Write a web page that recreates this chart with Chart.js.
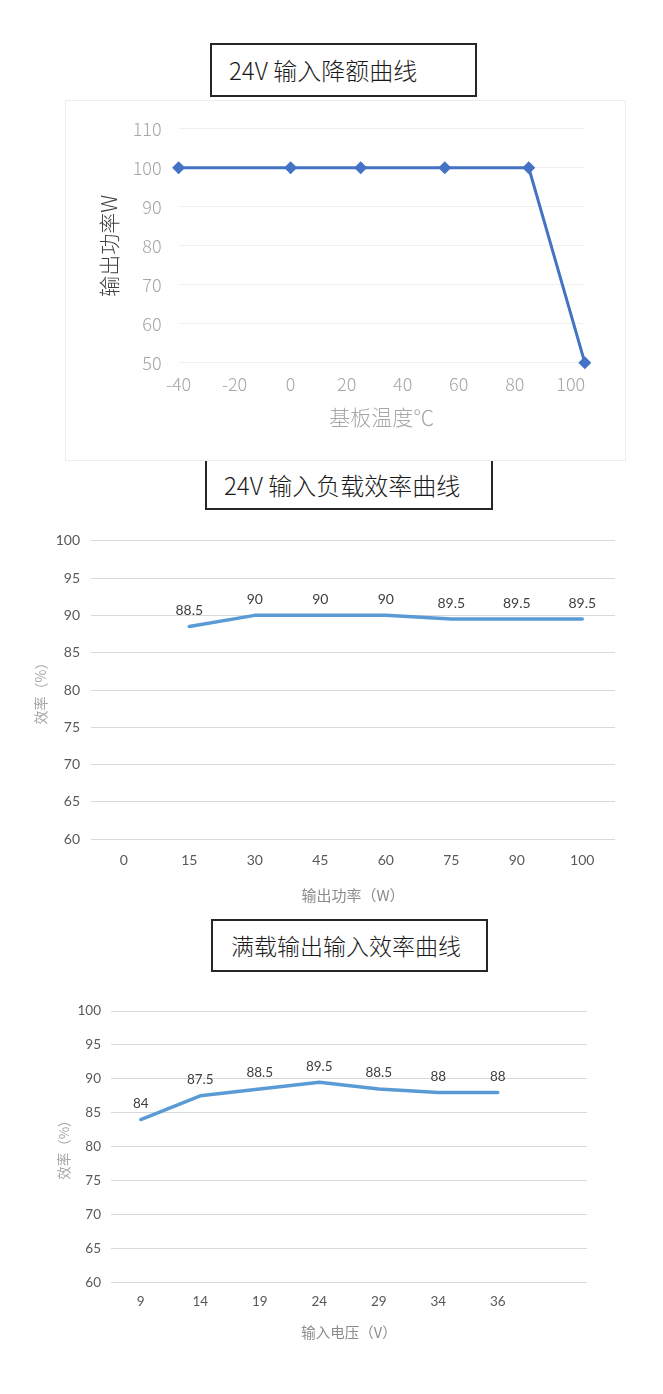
<!DOCTYPE html>
<html lang="zh-CN">
<head>
<meta charset="utf-8">
<title>24V 输入降额与效率曲线</title>
<script src="https://cdn.jsdelivr.net/npm/chart.js@4.4.1/dist/chart.umd.min.js"></script>
<style>
  html, body { margin: 0; padding: 0; background: #fff; }
  body {
    position: relative;
    width: 663px;
    height: 1394px;
    overflow: hidden;
    font-family: 'Noto Sans CJK SC', sans-serif;
  }
  .title-box {
    position: absolute;
    box-sizing: border-box;
    border: 2px solid #262626;
    background: #fff;
    color: #1a1a1a;
    font-size: 24px;
    font-weight: 300;
    line-height: 1;
    display: flex;
    align-items: center;
    white-space: nowrap;
  }
  .frame {
    position: absolute;
    box-sizing: border-box;
    border: 1px solid #ececec;
    background: #fff;
  }
  canvas { position: absolute; }
</style>
</head>
<body>

<div class="title-box" style="left:210px; top:43px; width:267px; height:54px; padding-left:17px;">24V 输入降额曲线</div>
<div class="title-box" style="left:205px; top:461px; width:288px; height:49px; padding-left:17px; border-top:none;">24V 输入负载效率曲线</div>
<div class="frame" style="left:65px; top:100px; width:561px; height:361px;"></div>
<canvas id="derating-chart" width="558" height="358" style="left:66px; top:101px;"></canvas>

<canvas id="load-chart" width="663" height="390" style="left:0; top:520px;"></canvas>

<div class="title-box" style="left:211px; top:919px; width:277px; height:53px; padding-left:18px; font-size:23px;">满载输出输入效率曲线</div>
<canvas id="voltage-chart" width="663" height="370" style="left:0; top:990px;"></canvas>

<script>
// derating curve (base plate temperature vs output power)
const deratingTemps = [-40, 0, 25, 55, 85, 105];
const deratingPower = [100, 100, 100, 100, 100, 50];

// efficiency vs output power at 24V input
const loadLabels = ['0', '15', '30', '45', '60', '75', '90', '100'];
const loadEfficiency = [null, 88.5, 90, 90, 90, 89.5, 89.5, 89.5];

// efficiency vs input voltage at full load
const voltageLabels = ['9', '14', '19', '24', '29', '34', '36', ''];
const voltageEfficiency = [84, 87.5, 88.5, 89.5, 88.5, 88, 88, null];

const CJK = "'Noto Sans CJK SC', sans-serif";
const LATIN = "Lato, 'Noto Sans CJK SC', sans-serif";

Chart.defaults.animation = false;
Chart.defaults.plugins.legend.display = false;
Chart.defaults.plugins.tooltip.enabled = false;

// pin axis boxes so the plot area lands where the picture has it
const fixWidth = (w) => (scale) => { scale.width = w; };
const fixHeight = (h) => (scale) => { scale.height = h; };

// value written above each point
const valueLabels = {
  id: 'valueLabels',
  afterDatasetsDraw(chart, args, opts) {
    const { ctx } = chart;
    const values = chart.data.datasets[0].data;
    const meta = chart.getDatasetMeta(0);
    ctx.save();
    ctx.font = opts.font;
    ctx.fillStyle = opts.color;
    ctx.textAlign = 'center';
    ctx.textBaseline = 'middle';
    meta.data.forEach((pt, i) => {
      if (values[i] == null) return;
      ctx.fillText(String(values[i]), pt.x, pt.y - opts.offset);
    });
    ctx.restore();
  },
};

new Chart(document.getElementById('derating-chart'), {
  type: 'line',
  data: {
    datasets: [{
      data: deratingTemps.map((t, i) => ({ x: t, y: deratingPower[i] })),
      borderColor: '#4472C4',
      backgroundColor: '#4472C4',
      borderWidth: 3,
      pointStyle: 'rectRot',
      pointRadius: 6.5,
      pointBorderWidth: 0,
      tension: 0,
      clip: false,
    }],
  },
  options: {
    responsive: false,
    layout: { padding: { top: 24.7, right: 39.2, left: 0, bottom: 0 } },
    scales: {
      x: {
        type: 'linear',
        min: -40,
        max: 105,
        afterFit: fixHeight(96.3),
        grid: { display: false, drawTicks: false },
        border: { display: false },
        ticks: {
          stepSize: 20,
          includeBounds: false,
          padding: 10.5,
          color: '#a6a6a6',
          font: { size: 18, family: CJK, weight: 300 },
        },
        title: {
          display: true,
          text: '基板温度℃',
          color: '#a6a6a6',
          font: { size: 21, family: CJK, weight: 300 },
          padding: { top: 0, bottom: 29.7 },
        },
      },
      y: {
        min: 50,
        max: 110,
        afterFit: fixWidth(112.6),
        grid: { color: '#f0f0f0', drawTicks: false },
        border: { display: false },
        ticks: {
          stepSize: 10,
          padding: 17,
          color: '#a6a6a6',
          font: { size: 18, family: CJK, weight: 300 },
        },
        title: {
          display: true,
          text: '输出功率W',
          color: '#404040',
          font: { size: 21, family: CJK, weight: 300 },
          padding: { top: 30.4, bottom: 0 },
        },
      },
    },
  },
});

function efficiencyChart(id, labels, values, xTitle, geo) {
  return new Chart(document.getElementById(id), {
    type: 'line',
    data: {
      labels,
      datasets: [{
        data: values,
        borderColor: '#5B9BD5',
        borderWidth: 3.5,
        borderCapStyle: 'round',
        borderJoinStyle: 'round',
        pointRadius: 0,
        tension: 0,
      }],
    },
    plugins: [valueLabels],
    options: {
      responsive: false,
      layout: { padding: { top: geo.top, right: geo.right, left: 0, bottom: 0 } },
      plugins: {
        valueLabels: { font: `${geo.font}px ${LATIN}`, color: '#404040', offset: 16 },
      },
      scales: {
        x: {
          type: 'category',
          offset: true,
          afterFit: fixHeight(geo.xHeight),
          grid: { display: false, drawTicks: false },
          border: { display: false },
          ticks: { padding: geo.xPad, color: '#595959', font: { size: geo.font, family: LATIN } },
          title: {
            display: true,
            text: xTitle,
            color: '#8c8c8c',
            font: { size: geo.titleFont, family: CJK },
            padding: { top: 0, bottom: geo.xTitlePad },
          },
        },
        y: {
          min: 60,
          max: 100,
          afterFit: fixWidth(geo.yWidth),
          grid: { color: '#d9d9d9', drawTicks: false },
          border: { display: false },
          ticks: { stepSize: 5, padding: geo.yPad, color: '#595959', font: { size: geo.font, family: LATIN } },
          title: {
            display: true,
            text: '效率（%）',
            color: '#a6a6a6',
            font: { size: geo.titleFont - 1, family: CJK },
            padding: { top: geo.yTitlePad, bottom: 0 },
          },
        },
      },
    },
  });
}

efficiencyChart('load-chart', loadLabels, loadEfficiency, '输出功率（W）', {
  top: 20.7, right: 48, xHeight: 70.7, yWidth: 91,
  font: 14, titleFont: 15, xPad: 13, yPad: 11, xTitlePad: 6, yTitlePad: 32,
});

efficiencyChart('voltage-chart', voltageLabels, voltageEfficiency, '输入电压（V）', {
  top: 21, right: 76, xHeight: 77.7, yWidth: 111,
  font: 13.5, titleFont: 14.5, xPad: 11.3, yPad: 10, xTitlePad: 18.6, yTitlePad: 56,
});
</script>
</body>
</html>
